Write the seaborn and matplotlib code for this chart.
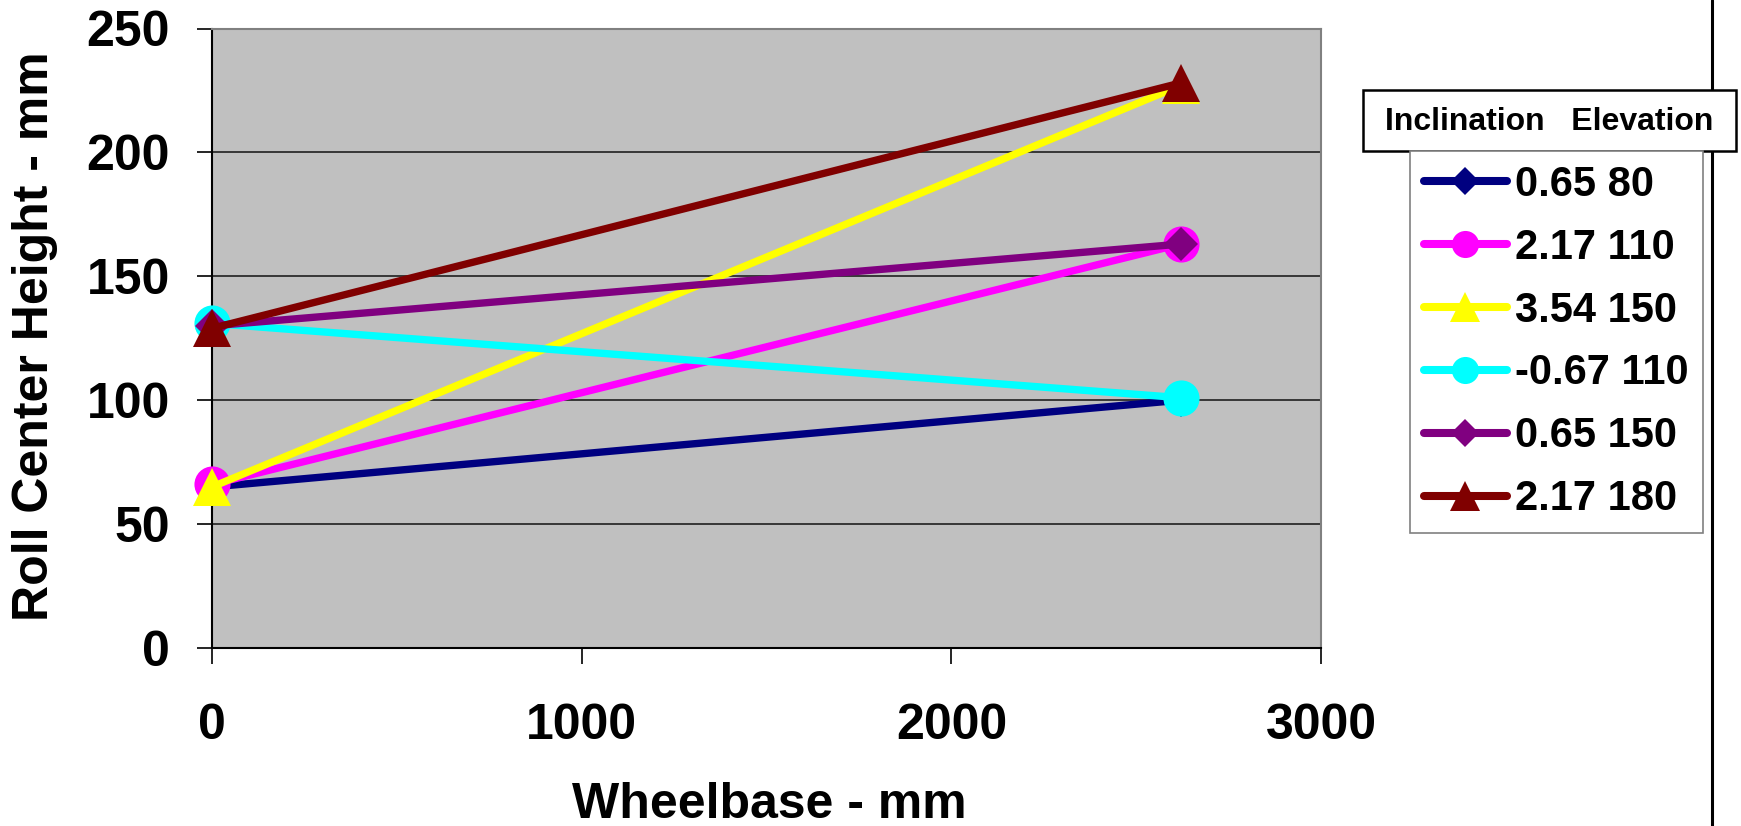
import numpy as np
import pandas as pd
import matplotlib
matplotlib.use("Agg")
import matplotlib.pyplot as plt
import seaborn as sns
from matplotlib.lines import Line2D
from matplotlib.patches import Rectangle

# ---- data ----
wheelbase = [0, 2620]
series_names = ["0.65 80", "2.17 110", "3.54 150", "-0.67 110", "0.65 150", "2.17 180"]
rc_0_65_80 = [65, 100]
rc_2_17_110 = [66, 163]
rc_3_54_150 = [65, 227]
rc_m0_67_110 = [131, 101]
rc_0_65_150 = [130, 163]
rc_2_17_180 = [129, 228]
x_ticks = [0, 1000, 2000, 3000]
y_ticks = [0, 50, 100, 150, 200, 250]
legend_title = "Inclination   Elevation"
x_label = "Wheelbase - mm"
y_label = "Roll Center Height - mm"

series_values = [rc_0_65_80, rc_2_17_110, rc_3_54_150, rc_m0_67_110, rc_0_65_150, rc_2_17_180]

# ---- styles ----
colors = ["#000080", "#FF00FF", "#FFFF00", "#00FFFF", "#800080", "#800000"]
markers = ["D", "o", "^", "o", "D", "^"]
plot_ms = {"D": 17, "o": 26, "^": 28}
leg_ms = {"D": 14, "o": 19.5, "^": 22}

rows = []
for name, vals in zip(series_names, series_values):
    for xv, yv in zip(wheelbase, vals):
        rows.append({"series": name, "wheelbase": xv, "height": yv})
df = pd.DataFrame(rows)

sns.set_style("white")
plt.rcParams["font.family"] = ["Liberation Sans", "DejaVu Sans"]
plt.rcParams["font.weight"] = "bold"
plt.rcParams["text.color"] = "black"
plt.rcParams["axes.labelcolor"] = "black"
plt.rcParams["xtick.color"] = "black"
plt.rcParams["ytick.color"] = "black"

W, H = 1741, 826
fig = plt.figure(figsize=(W / 100, H / 100), dpi=100)
ax = fig.add_axes([212 / W, 1 - 648 / H, (1321 - 212) / W, (648 - 28.5) / H])
ax.set_facecolor("#C0C0C0")

for name, col, mk in zip(series_names, colors, markers):
    sub = df[df["series"] == name]
    sns.lineplot(data=sub, x="wheelbase", y="height", ax=ax, color=col,
                 marker=mk, markersize=plot_ms[mk], markeredgewidth=0,
                 linewidth=5.3, legend=False, sort=False, errorbar=None,
                 clip_on=False, zorder=3)

ax.set_xlim(0, 3000)
ax.set_ylim(0, 250)
ax.set_xticks(x_ticks)
ax.set_yticks(y_ticks)
ax.set_xlabel("")
ax.set_ylabel("")
ax.yaxis.grid(True, color="#202020", linewidth=1.2, zorder=1)
ax.xaxis.grid(False)
ax.set_axisbelow(True)
for s in ["left", "bottom"]:
    ax.spines[s].set_color("black")
    ax.spines[s].set_linewidth(1.5)
for s in ["top", "right"]:
    ax.spines[s].set_color("#808080")
    ax.spines[s].set_linewidth(1.5)
ax.tick_params(axis="y", direction="out", length=10.8, width=1.2, pad=19.4,
               labelsize=36, left=True, colors="black")
ax.tick_params(axis="x", direction="out", length=11.5, width=1.2, pad=28,
               labelsize=36, bottom=True, colors="black")
for lab in ax.get_xticklabels() + ax.get_yticklabels():
    lab.set_fontweight("bold")
    lab.set_color("black")

fig.text(769 / W, 1 - 818 / H, x_label, ha="center", va="baseline",
         fontsize=36, fontweight="bold", color="black")
fig.text(12 / W, 1 - 336 / H, y_label, ha="left", va="center", rotation=90,
         fontsize=36, fontweight="bold", color="black")

# vertical separator line
fig.add_artist(Line2D([1712 / W, 1712 / W], [0, 1], color="black", lw=2.2,
                      transform=fig.transFigure, zorder=1))

# legend
handles = [Line2D([0], [0], color=c, marker=m, markersize=leg_ms[m],
                  markeredgewidth=0, lw=5.8, solid_capstyle="round")
           for c, m in zip(colors, markers)]
leg = fig.legend(handles, series_names, loc="upper left",
                 bbox_to_anchor=(1410 / W, 1 - 151 / H), borderaxespad=0,
                 frameon=True, fancybox=False, edgecolor="#808080",
                 framealpha=1, prop={"size": 30, "weight": "bold"},
                 handlelength=2.0, handletextpad=0.2, borderpad=0.33,
                 labelspacing=0.55)
leg.get_frame().set_linewidth(1.2)
for t in leg.get_texts():
    t.set_color("black")

# legend title box
fig.add_artist(Rectangle((1363 / W, 1 - 151 / H), 373 / W, 61 / H,
                         transform=fig.transFigure, facecolor="white",
                         edgecolor="black", lw=1.8, zorder=5))
fig.text(1549.5 / W, 1 - 121.5 / H, legend_title, ha="center", va="center",
         fontsize=23, fontweight="bold", color="black", zorder=6)

fig.savefig("out.png", dpi=100)
